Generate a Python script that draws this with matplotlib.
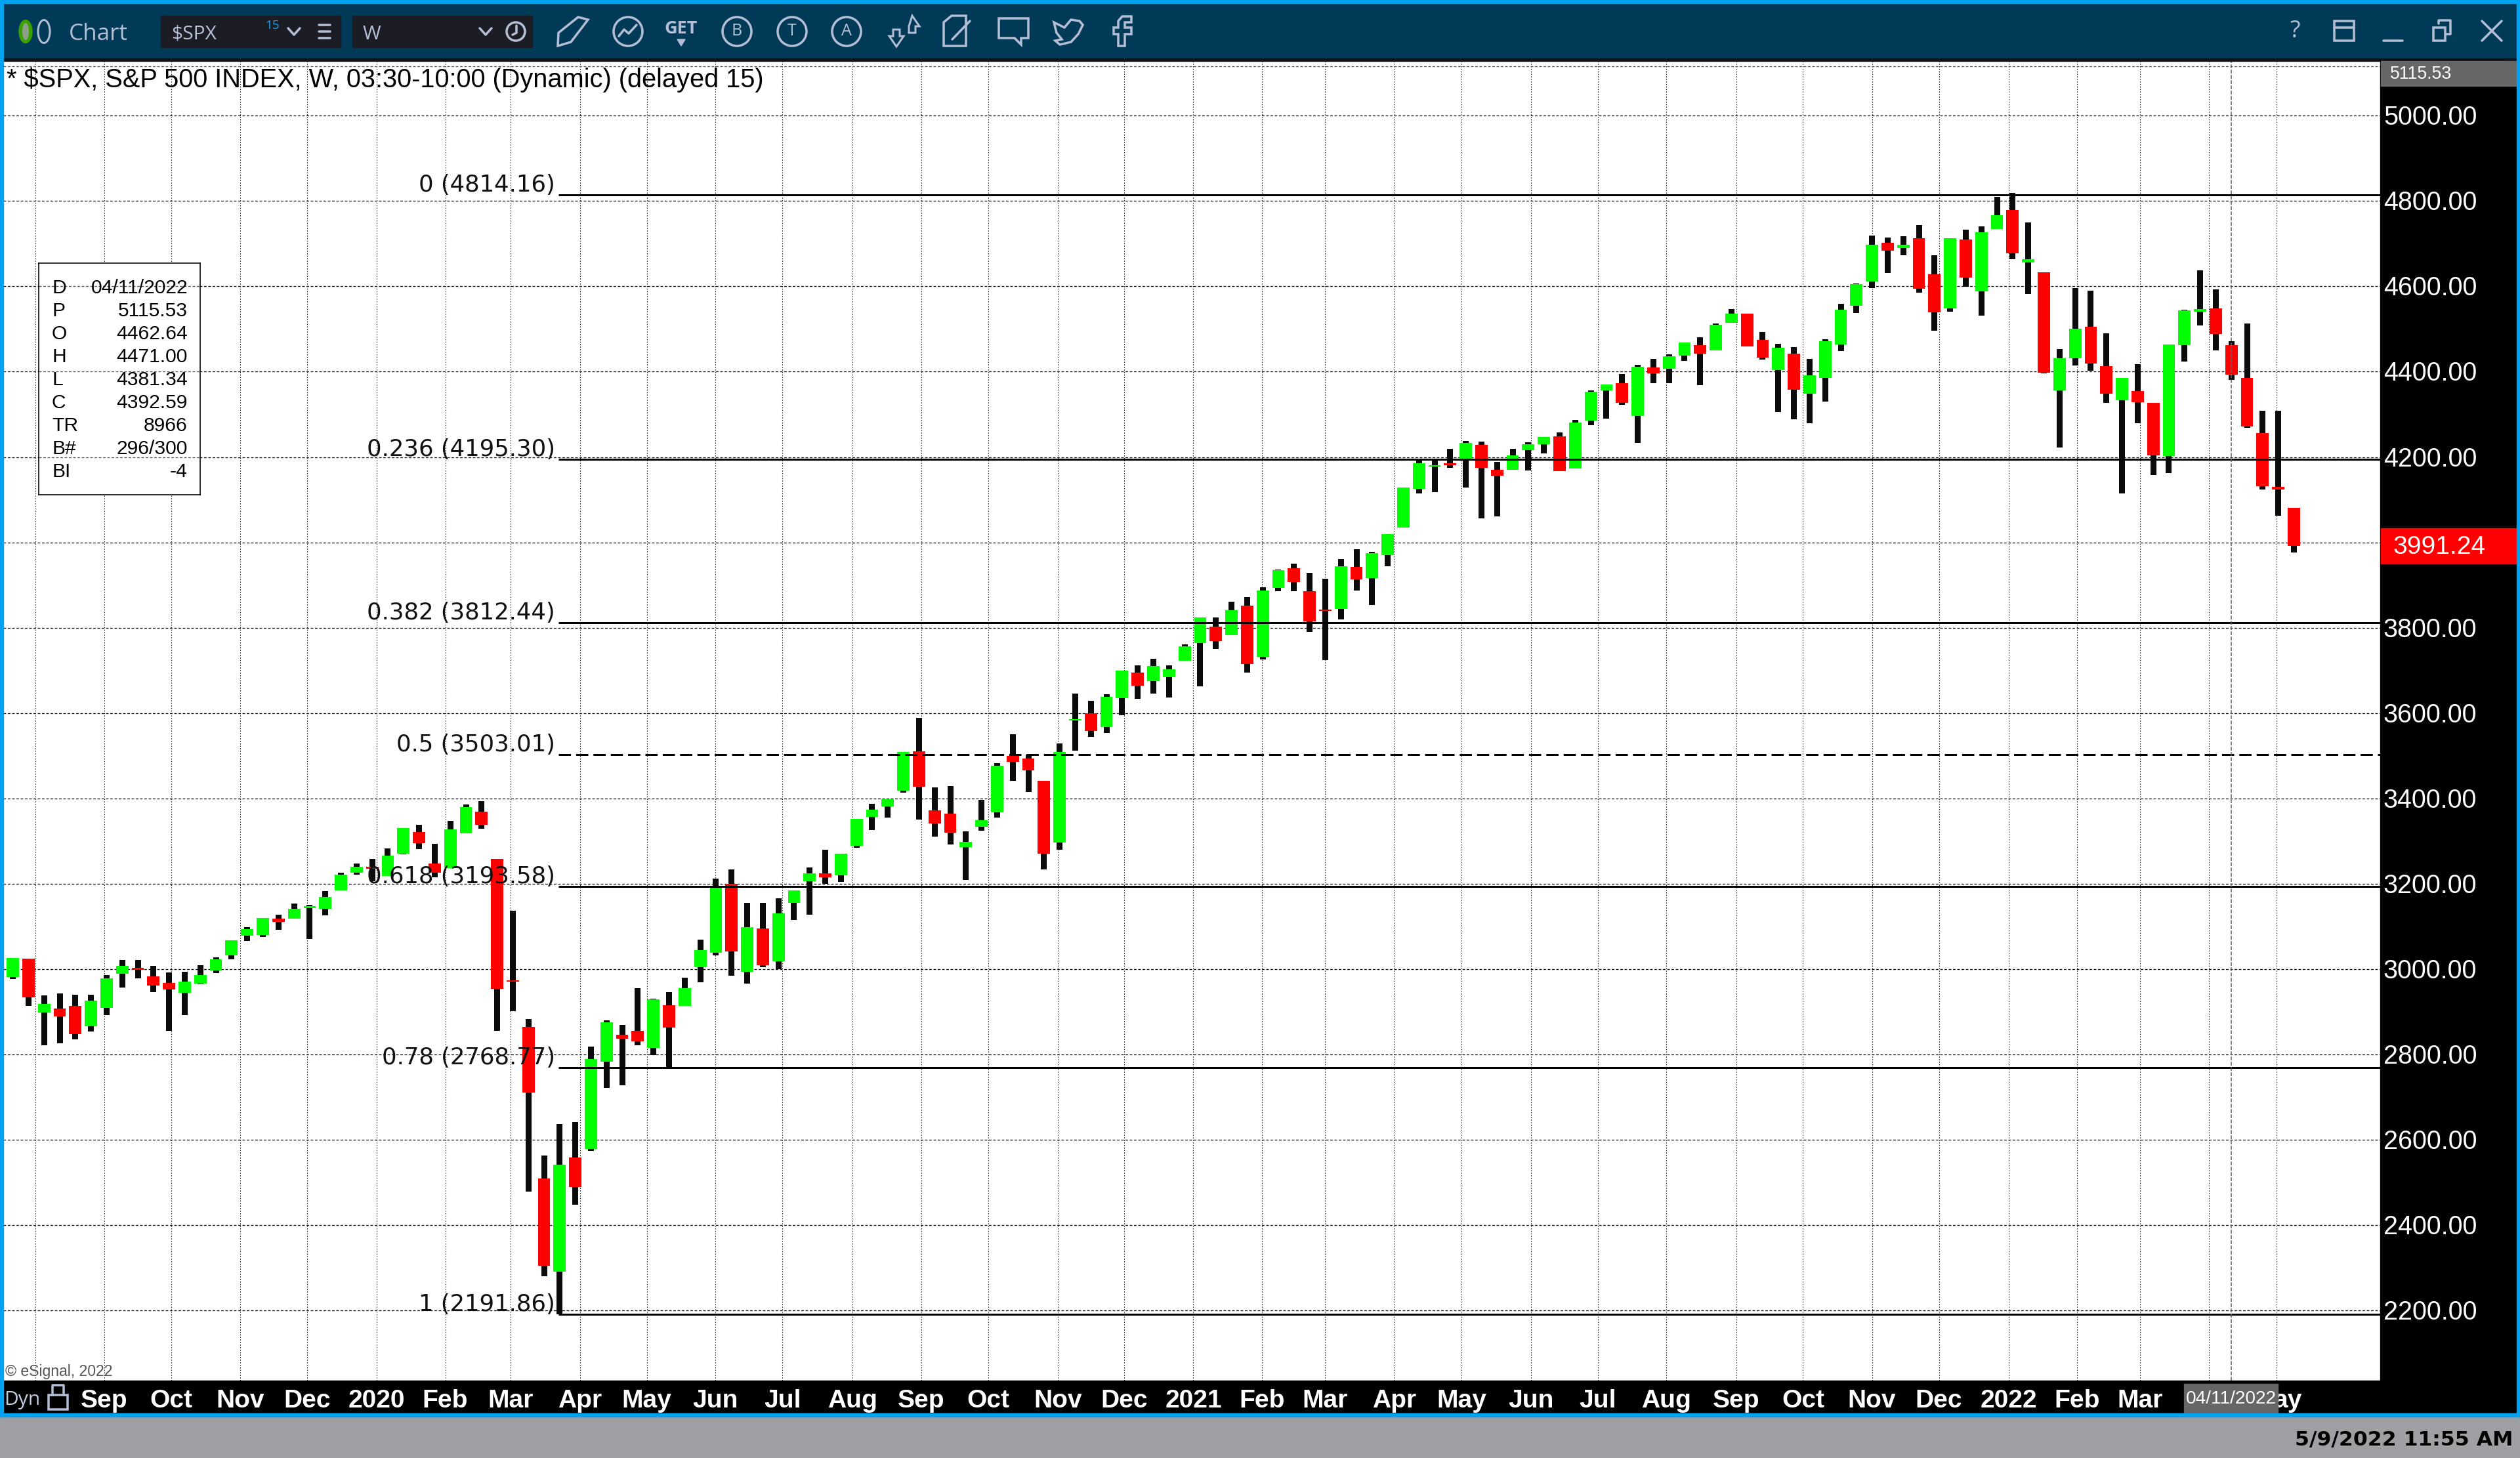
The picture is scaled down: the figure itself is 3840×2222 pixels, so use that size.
"""Weekly S&P 500 candles with Fibonacci levels in an eSignal style window."""
import matplotlib

matplotlib.use("Agg")
from matplotlib import pyplot as plt
from matplotlib.patches import Circle, Ellipse, Polygon, Rectangle

# weekly candles, oldest first
opens = [
    2981.2, 3024.4, 2898.2, 2907.9, 2914.0, 2866.5, 2909.7, 2989.1, 3003.0, 2982.9,
    2968.0, 2945.0, 2966.2, 2996.2, 3032.4, 3078.3, 3080.0, 3118.0, 3118.0, 3142.7,
    3141.8, 3184.2, 3225.7, 3239.8, 3218.6, 3270.7, 3321.0, 3247.7, 3236.3, 3318.3,
    3368.6, 3258.3, 2974.0, 2864.7, 2509.8, 2290.9, 2559.2, 2578.8, 2783.7, 2846.1,
    2855.4, 2815.3, 2915.0, 2914.1, 3004.4, 3038.0, 3200.0, 2994.2, 3095.7, 3018.4,
    3155.4, 3205.6, 3224.3, 3219.6, 3289.5, 3356.6, 3380.8, 3418.0, 3510.3, 3372.4,
    3364.0, 3285.8, 3333.3, 3367.7, 3500.0, 3493.3, 3441.5, 3296.4, 3582.7, 3600.0,
    3567.0, 3635.3, 3694.9, 3675.3, 3683.9, 3722.4, 3763.9, 3802.4, 3782.8, 3851.8,
    3731.8, 3893.4, 3939.7, 3885.5, 3842.4, 3844.0, 3942.8, 3916.1, 3970.3, 4034.6,
    4125.6, 4177.4, 4185.2, 4192.3, 4228.4, 4170.3, 4170.0, 4216.0, 4230.4, 4248.2,
    4173.4, 4285.3, 4356.0, 4373.1, 4296.3, 4410.2, 4406.8, 4437.7, 4462.4, 4450.0,
    4514.6, 4535.8, 4474.7, 4404.0, 4442.5, 4348.4, 4385.5, 4463.8, 4554.4, 4611.3,
    4701.9, 4689.6, 4712.9, 4628.5, 4548.2, 4709.5, 4588.5, 4734.4, 4778.8, 4656.0,
    4632.9, 4356.2, 4431.6, 4505.2, 4412.8, 4333.1, 4354.4, 4327.0, 4202.4, 4462.0,
    4540.4, 4548.4, 4462.64, 4385.4, 4255.9, 4130.0, 4080.8,
]
highs = [
    3026.2, 3024.4, 2938.8, 2943.2, 2939.7, 2939.7, 2986.5, 3021.8, 3021.8, 3007.7,
    2992.6, 2993.5, 3009.4, 3028.0, 3067.7, 3098.6, 3119.8, 3127.7, 3154.2, 3150.6,
    3183.3, 3225.7, 3247.7, 3258.3, 3283.0, 3330.7, 3338.6, 3293.6, 3347.5, 3386.3,
    3393.4, 3258.3, 3136.5, 2883.4, 2562.9, 2637.4, 2642.1, 2818.1, 2879.6, 2869.4,
    2955.1, 2930.9, 2945.8, 2980.0, 3068.7, 3212.2, 3233.6, 3155.4, 3155.4, 3165.6,
    3184.2, 3238.3, 3280.2, 3270.9, 3351.9, 3387.3, 3397.5, 3509.3, 3588.5, 3425.5,
    3429.2, 3323.0, 3396.6, 3482.3, 3550.3, 3502.7, 3441.5, 3528.6, 3645.5, 3629.0,
    3643.9, 3699.6, 3712.0, 3727.0, 3712.0, 3760.8, 3824.3, 3824.3, 3861.2, 3871.4,
    3894.9, 3936.5, 3949.9, 3928.7, 3914.6, 3960.9, 3983.6, 3978.1, 4019.7, 4128.7,
    4191.5, 4195.4, 4219.0, 4237.8, 4236.2, 4188.4, 4219.4, 4234.5, 4246.8, 4257.8,
    4286.7, 4356.0, 4369.7, 4394.4, 4416.4, 4430.1, 4440.4, 4468.6, 4480.9, 4513.2,
    4546.8, 4535.8, 4493.3, 4465.1, 4457.6, 4430.1, 4476.0, 4559.2, 4606.5, 4719.1,
    4714.3, 4717.7, 4743.8, 4673.1, 4712.9, 4732.8, 4740.5, 4809.8, 4818.6, 4749.6,
    4632.9, 4452.9, 4595.8, 4589.7, 4490.0, 4385.4, 4417.6, 4327.0, 4463.8, 4545.3,
    4637.7, 4592.7, 4471.0, 4513.1, 4308.2, 4308.2, 4080.8,
]
lows = [
    2977.7, 2914.1, 2821.4, 2825.9, 2835.6, 2854.1, 2892.0, 2957.4, 2978.5, 2945.9,
    2855.9, 2892.0, 2964.4, 2990.9, 3022.7, 3065.9, 3075.6, 3092.4, 3118.0, 3070.3,
    3125.9, 3184.2, 3221.2, 3206.0, 3218.6, 3268.9, 3281.3, 3215.0, 3236.3, 3318.3,
    3328.9, 2855.9, 2901.8, 2479.1, 2280.7, 2191.9, 2448.3, 2574.1, 2721.3, 2727.8,
    2821.9, 2798.6, 2768.8, 2914.1, 2969.0, 3032.4, 2984.9, 2966.2, 3004.4, 2999.8,
    3115.3, 3127.4, 3200.0, 3204.7, 3284.8, 3325.8, 3354.7, 3414.3, 3351.0, 3310.9,
    3292.3, 3209.4, 3324.0, 3354.7, 3441.3, 3414.8, 3233.6, 3279.9, 3512.1, 3544.3,
    3553.7, 3595.3, 3633.7, 3645.5, 3636.8, 3722.4, 3662.8, 3750.6, 3782.8, 3694.9,
    3725.5, 3885.5, 3885.5, 3790.6, 3723.9, 3819.7, 3887.1, 3853.4, 3944.4, 4034.6,
    4114.6, 4117.8, 4175.0, 4128.7, 4056.6, 4060.5, 4170.0, 4168.6, 4208.4, 4167.2,
    4173.4, 4274.3, 4290.1, 4322.4, 4233.1, 4373.1, 4373.1, 4425.3, 4368.3, 4450.0,
    4514.6, 4458.9, 4428.1, 4305.2, 4288.7, 4279.1, 4329.9, 4448.7, 4537.9, 4596.2,
    4631.2, 4673.1, 4585.2, 4496.0, 4540.6, 4599.7, 4531.3, 4734.4, 4663.9, 4582.4,
    4396.4, 4222.5, 4414.6, 4402.4, 4327.0, 4114.8, 4279.0, 4158.0, 4162.3, 4423.7,
    4508.2, 4449.9, 4381.34, 4268.7, 4124.0, 4062.6, 3976.2,
]
closes = [
    3026.2, 2933.5, 2918.5, 2889.4, 2847.9, 2926.5, 2978.5, 3007.7, 2999.0, 2961.8,
    2952.0, 2970.6, 2986.5, 3022.7, 3067.7, 3094.2, 3119.8, 3110.9, 3141.8, 3147.0,
    3169.2, 3221.2, 3239.8, 3235.4, 3266.3, 3330.7, 3295.4, 3225.7, 3327.2, 3380.1,
    3338.6, 2953.8, 2970.6, 2711.0, 2304.9, 2541.5, 2489.3, 2789.3, 2875.9, 2836.8,
    2831.2, 2929.0, 2862.9, 2955.1, 3044.5, 3193.5, 3041.7, 3098.5, 3009.1, 3131.1,
    3184.2, 3224.3, 3215.0, 3270.9, 3351.9, 3373.3, 3397.5, 3509.3, 3427.4, 3341.6,
    3320.2, 3297.9, 3349.1, 3476.7, 3485.1, 3465.8, 3270.5, 3509.0, 3585.9, 3558.4,
    3637.6, 3699.6, 3664.3, 3710.6, 3702.8, 3756.1, 3824.3, 3768.6, 3840.8, 3714.5,
    3887.1, 3935.0, 3906.7, 3815.0, 3839.3, 3944.4, 3913.0, 3975.0, 4019.7, 4128.7,
    4185.2, 4180.5, 4180.5, 4233.1, 4175.0, 4156.2, 4203.6, 4230.4, 4246.8, 4167.2,
    4280.5, 4353.2, 4369.7, 4327.2, 4411.6, 4395.8, 4436.3, 4468.6, 4442.5, 4509.7,
    4535.8, 4458.9, 4432.9, 4456.2, 4357.4, 4391.7, 4471.3, 4545.4, 4605.1, 4697.1,
    4683.4, 4697.1, 4594.2, 4539.3, 4712.9, 4620.2, 4726.5, 4766.6, 4677.2, 4663.9,
    4397.6, 4431.6, 4500.9, 4418.8, 4348.3, 4385.4, 4328.3, 4203.6, 4463.8, 4543.5,
    4546.5, 4488.2, 4392.59, 4271.7, 4131.9, 4124.6, 3991.24,
]

# month starts, in bars from the first candle
month_positions = [
    1.43, 5.84, 10.13, 14.54, 18.85, 23.27, 27.68, 31.85, 36.30, 40.58, 44.97,
    49.26, 53.74, 58.13, 62.43, 66.88, 71.14, 75.56, 79.97, 84.00, 88.41, 92.72,
    97.16, 101.44, 105.84, 110.30, 114.58, 119.00, 123.28, 127.74, 132.13, 136.14,
    140.58, 144.87,
]
# the last two sit partly behind the cursor date box, so only "ay" of May shows
month_labels = [
    "", "Sep", "Oct", "Nov", "Dec", "2020", "Feb", "Mar", "Apr", "May", "Jun",
    "Jul", "Aug", "Sep", "Oct", "Nov", "Dec", "2021", "Feb", "Mar", "Apr", "May",
    "Jun", "Jul", "Aug", "Sep", "Oct", "Nov", "Dec", "2022", "Feb", "Mar", "",
    "ay",
]
price_ticks = [2200, 2400, 2600, 2800, 3000, 3200, 3400, 3600, 3800, 4000, 4200,
               4400, 4600, 4800, 5000]

fib_ratios = ["0", "0.236", "0.382", "0.5", "0.618", "0.78", "1"]
fib_prices = [4814.16, 4195.30, 3812.44, 3503.01, 3193.58, 2768.77, 2191.86]

legend_keys = ["D", "P", "O", "H", "L", "C", "TR", "B#", "BI"]
legend_values = ["04/11/2022", "5115.53", "4462.64", "4471.00", "4381.34",
                 "4392.59", "8966", "296/300", "-4"]

cursor_bar = 142
cursor_price = 5115.53
last_price = 3991.24

FIG_W, FIG_H = 3840, 2222
PLOT_L, PLOT_R, PLOT_T, PLOT_B = 5, 3627, 93, 2104
BAR_X0, BAR_STEP = 19.6, 23.807
PRICE_Y0, PRICE_SCALE = 176.2, 0.6504

BLUE = "#00a2f2"
TOOLBAR = "#013a57"
ICON = "#b4bfd6"
INPUT_BG = "#1c1d24"
UP = "#00ff00"
DOWN = "#ff0000"
INK = "#0b0b0b"
SANS = "Liberation Sans"


def pt(pixels: float) -> float:
    """Convert a size in pixels to points at 100 dpi."""
    return pixels * 0.72


def bar_at(x: float) -> float:
    return (x - BAR_X0) / BAR_STEP


def price_at(y: float) -> float:
    return 5000 - (y - PRICE_Y0) / PRICE_SCALE


def draw_price_chart(ax) -> None:
    """Grid, candles and Fibonacci levels."""
    ax.set_xlim(bar_at(PLOT_L), bar_at(PLOT_R))
    ax.set_ylim(price_at(PLOT_B), price_at(PLOT_T))
    ax.set_axis_off()

    ax.hlines(price_ticks, *ax.get_xlim(), colors="#111111", linewidth=pt(1.3),
              linestyles=[(0, (3, 2))], zorder=1)
    ax.vlines(month_positions, *ax.get_ylim(), colors="#111111", linewidth=pt(1.1),
              linestyles=[(0, (1.3, 2.2))], zorder=1)

    bars = range(len(opens))
    ax.bar(bars, [h - l for h, l in zip(highs, lows)], bottom=lows, width=0.378,
           color=INK, linewidth=0, zorder=2, antialiased=False)
    body_low = [min(o, c) for o, c in zip(opens, closes)]
    body_size = [abs(o - c) for o, c in zip(opens, closes)]
    colors = [UP if c >= o else DOWN for o, c in zip(opens, closes)]
    ax.bar(bars, body_size, bottom=body_low, width=0.79, color=colors, linewidth=0,
           zorder=3, antialiased=False)

    line_start = bar_at(851)
    for ratio, price in zip(fib_ratios, fib_prices):
        style = (0, (6.2, 2.6)) if ratio == "0.5" else "solid"
        ax.hlines(price, line_start, ax.get_xlim()[1], colors="#000000",
                  linewidth=pt(3), linestyles=[style], zorder=4)
        ax.annotate(f"{ratio} ({price:.2f})", xy=(bar_at(846), price),
                    xytext=(0, pt(5)), textcoords="offset points", ha="right",
                    va="baseline", family="DejaVu Sans", fontsize=pt(35.5),
                    color="#111111", zorder=6)

    ax.vlines(cursor_bar, *ax.get_ylim(), colors="#666666", linewidth=pt(1.6),
              linestyles=[(0, (3.6, 1.4))], zorder=5)
    ax.hlines(cursor_price, *ax.get_xlim(), colors="#555555", linewidth=pt(1.3),
              linestyles=[(0, (3, 2))], zorder=5)


def draw_info_box(fig) -> None:
    """The data window, which lets the grey price grid show through."""
    left, right, top, bottom = 59, 305, 401, 754
    box = fig.add_axes([left / FIG_W, 1 - bottom / FIG_H, (right - left) / FIG_W,
                        (bottom - top) / FIG_H], zorder=3)
    box.set_xlim(left, right)
    box.set_ylim(price_at(bottom), price_at(top))
    box.set_xticks([])
    box.set_yticks([])
    for spine in box.spines.values():
        spine.set_linewidth(pt(1.6))
    box.hlines(price_ticks, left, right, colors="#555555", linewidth=pt(1.3),
               linestyles=[(0, (3, 2))])
    for row, (key, value) in enumerate(zip(legend_keys, legend_values)):
        y = price_at(439 + row * 35)
        box.text(79, y, key, family=SANS, fontsize=pt(30), va="center")
        box.text(286, y, value, family=SANS, fontsize=pt(30), va="center", ha="right")


def draw_toolbar(ui) -> None:
    """Window title bar with its buttons, roughly traced as line icons."""
    ui.add_patch(Rectangle((0, 0), FIG_W, 90, color=TOOLBAR, zorder=1))
    ui.add_patch(Rectangle((0, 89), FIG_W, 4, color="#111214", zorder=1))
    ui.add_patch(Rectangle((245, 24), 274, 48, color=INPUT_BG, zorder=2))
    ui.add_patch(Rectangle((537, 24), 274, 48, color=INPUT_BG, zorder=2))

    ui.add_patch(Ellipse((39, 48), 20, 35, fc="#3aa000", ec="#3aa000", zorder=3))
    ui.add_patch(Ellipse((39, 48), 10, 26, fc="#8fa08a", ec="none", zorder=3))
    ui.add_patch(Ellipse((67, 48), 18, 35, fc="none", ec=ICON, lw=pt(3), zorder=3))

    label = dict(family="Open Sans", color=ICON, va="center", zorder=4)
    ui.text(105, 52, "Chart", fontsize=pt(35), **label)
    ui.text(261, 52, "$SPX", fontsize=pt(30), **label)
    ui.text(553, 52, "W", fontsize=pt(30), **label)
    ui.text(404, 39, "15", fontsize=pt(19), family="Open Sans", color="#1aa0f0",
            va="center", zorder=4)

    icon = dict(color=ICON, lw=pt(3.5), zorder=4, solid_capstyle="round")
    for x in (448, 740):
        ui.plot([x - 9, x, x + 9], [43, 53, 43], **icon)
    for y in (38, 48, 58):
        ui.plot([486, 503], [y, y], **icon)
    ui.add_patch(Circle((786, 48), 14, fc="none", ec=ICON, lw=pt(3.5), zorder=4))
    ui.plot([787, 787, 781], [39, 50, 53], **icon)

    ui.add_patch(Polygon([(850, 70), (851, 50), (881, 26), (896, 30), (870, 64)],
                         fc="none", ec=ICON, lw=pt(3.5), zorder=4))
    ui.add_patch(Circle((957, 48), 22, fc="none", ec=ICON, lw=pt(3.5), zorder=4))
    ui.plot([943, 951, 958, 970], [55, 45, 51, 38], **icon)
    ui.text(1038, 44, "GET", family="Open Sans", fontsize=pt(27), fontweight="bold",
            color=ICON, ha="center", va="center", zorder=4)
    ui.add_patch(Polygon([(1032, 60), (1044, 60), (1038, 70)], color=ICON, zorder=4))
    for x, letter in zip((1123, 1207, 1290), "BTA"):
        ui.add_patch(Circle((x, 48), 22, fc="none", ec=ICON, lw=pt(3.5), zorder=4))
        ui.text(x, 48, letter, family="Open Sans", fontsize=pt(25), color=ICON,
                ha="center", va="center", zorder=4)
    ui.add_patch(Polygon([(1390, 24), (1401, 40), (1395, 40), (1395, 50), (1385, 50),
                          (1385, 40)], fc="none", ec=ICON, lw=pt(3), zorder=4))
    ui.add_patch(Polygon([(1366, 71), (1355, 55), (1361, 55), (1361, 45), (1371, 45),
                          (1371, 55), (1377, 55)], fc="none", ec=ICON, lw=pt(3), zorder=4))
    ui.add_patch(Polygon([(1438, 34), (1450, 24), (1472, 24), (1472, 70), (1438, 70)],
                         fc="none", ec=ICON, lw=pt(3.5), zorder=4))
    ui.plot([1451, 1478], [60, 32], **icon)
    ui.add_patch(Polygon([(1522, 28), (1567, 28), (1567, 58), (1556, 58), (1556, 68),
                          (1546, 58), (1522, 58)], fc="none", ec=ICON, lw=pt(3.5), zorder=4))
    # twitter bird and facebook f as outlines
    ui.add_patch(Polygon([(1608, 62), (1618, 60), (1610, 50), (1606, 34), (1622, 42),
                          (1632, 30), (1645, 32), (1650, 38), (1643, 52), (1632, 64),
                          (1615, 68)], fc="none", ec=ICON, lw=pt(3.5), zorder=4))
    ui.add_patch(Polygon([(1704, 70), (1704, 52), (1697, 52), (1697, 42), (1704, 42),
                          (1704, 32), (1710, 25), (1724, 25), (1724, 34), (1714, 34),
                          (1714, 42), (1724, 42), (1724, 52), (1714, 52), (1714, 70)],
                         fc="none", ec=ICON, lw=pt(3.5), zorder=4))

    ui.text(3497, 48, "?", family="Open Sans", fontsize=pt(36), color=ICON, ha="center",
            va="center", zorder=4)
    ui.add_patch(Rectangle((3557, 32), 30, 30, fc="none", ec=ICON, lw=pt(3.5), zorder=4))
    ui.plot([3557, 3587], [42, 42], **icon)
    ui.plot([3632, 3661], [62, 62], **icon)
    ui.add_patch(Rectangle((3708, 42), 18, 20, fc="none", ec=ICON, lw=pt(3.5), zorder=4))
    ui.plot([3716, 3716, 3734, 3734, 3728], [36, 31, 31, 52, 52], **icon)
    ui.plot([3782, 3812], [32, 62], **icon)
    ui.plot([3782, 3812], [62, 32], **icon)


def draw_axis_panels(ui) -> None:
    """Black price and date strips, the status bar and the blue window frame."""
    ui.add_patch(Rectangle((PLOT_R, PLOT_T), FIG_W - PLOT_R, 2154 - PLOT_T, color="#000000",
                           zorder=1))
    ui.add_patch(Rectangle((0, PLOT_B), FIG_W, 2154 - PLOT_B, color="#000000", zorder=1))
    ui.add_patch(Rectangle((0, 2154), FIG_W, FIG_H - 2154, color="#a09fa4", zorder=1))

    for price in price_ticks:
        # the last price flag covers the tick next to it
        if abs(price - last_price) < 40:
            continue
        y = PRICE_Y0 + (5000 - price) * PRICE_SCALE
        ui.text(3632, y + 3, f"{price:.2f}", family=SANS, fontsize=pt(39.5),
                color="white", va="center", zorder=4)

    ui.add_patch(Rectangle((3628, 93), 207, 38, color="#666666", zorder=2))
    ui.text(3642, 113, f"{cursor_price:.2f}", family=SANS, fontsize=pt(26.6), color="white",
            va="center", zorder=4)
    ui.add_patch(Rectangle((3628, 805), 207, 54, color=DOWN, zorder=2))
    ui.text(3647, 834, f"{last_price:.2f}", family=SANS, fontsize=pt(39), color="white",
            va="center", zorder=4)

    for position, label in zip(month_positions, month_labels):
        x = BAR_X0 + position * BAR_STEP
        # "ay" tucks in against the cursor date box
        if label == "ay":
            ui.text(3465, 2135, label, family=SANS, fontsize=pt(39), fontweight="bold",
                    color="white", ha="left", va="center", zorder=2)
        else:
            ui.text(x, 2135, label, family=SANS, fontsize=pt(39), fontweight="bold",
                    color="white", ha="center", va="center", zorder=2)
    ui.add_patch(Rectangle((3328, 2109), 143, 45, color="#666666", zorder=3))
    ui.text(3399.5, 2132, legend_values[0], family=SANS, fontsize=pt(28), color="white",
            ha="center", va="center", zorder=4)

    ui.text(6, 2133, "Dyn", family="Open Sans", fontsize=pt(30), color="#c4cde0",
            va="center", zorder=4)
    ui.add_patch(Rectangle((74, 2126), 29, 22, fc="none", ec=ICON, lw=pt(3.5), zorder=4))
    ui.plot([80, 80, 97, 97], [2126, 2111, 2111, 2126], color=ICON, lw=pt(3.5), zorder=4)
    ui.text(8, 2091, "\u00a9 eSignal, 2022", family=SANS, fontsize=pt(23), color="#555555",
            va="center", zorder=4)
    ui.text(3829, 2194, "5/9/2022 11:55 AM", family="DejaVu Sans", fontsize=pt(31.5),
            fontweight="bold", color="black", ha="right", va="center", zorder=4)
    ui.text(10, 122, "* $SPX, S&P 500 INDEX, W, 03:30-10:00 (Dynamic) (delayed 15)",
            family=SANS, fontsize=pt(39.8), color="black", va="center", zorder=4)

    ui.add_patch(Rectangle((0, 0), FIG_W, 5, color=BLUE, zorder=5))
    ui.add_patch(Rectangle((0, 0), 5, 2159, color=BLUE, zorder=5))
    ui.add_patch(Rectangle((3835, 0), 5, 2159, color=BLUE, zorder=5))
    ui.add_patch(Rectangle((0, 2154), FIG_W, 5, color=BLUE, zorder=5))


def main() -> None:
    fig = plt.figure(figsize=(FIG_W / 100, FIG_H / 100), dpi=100, facecolor="white")
    ax = fig.add_axes([PLOT_L / FIG_W, 1 - PLOT_B / FIG_H, (PLOT_R - PLOT_L) / FIG_W,
                       (PLOT_B - PLOT_T) / FIG_H], zorder=1)
    draw_price_chart(ax)

    ui = fig.add_axes([0, 0, 1, 1], zorder=2)
    ui.patch.set_alpha(0)
    ui.set_xlim(0, FIG_W)
    ui.set_ylim(FIG_H, 0)
    ui.set_axis_off()
    draw_toolbar(ui)
    draw_axis_panels(ui)

    draw_info_box(fig)
    fig.savefig("out.png", dpi=100)


if __name__ == "__main__":
    main()
